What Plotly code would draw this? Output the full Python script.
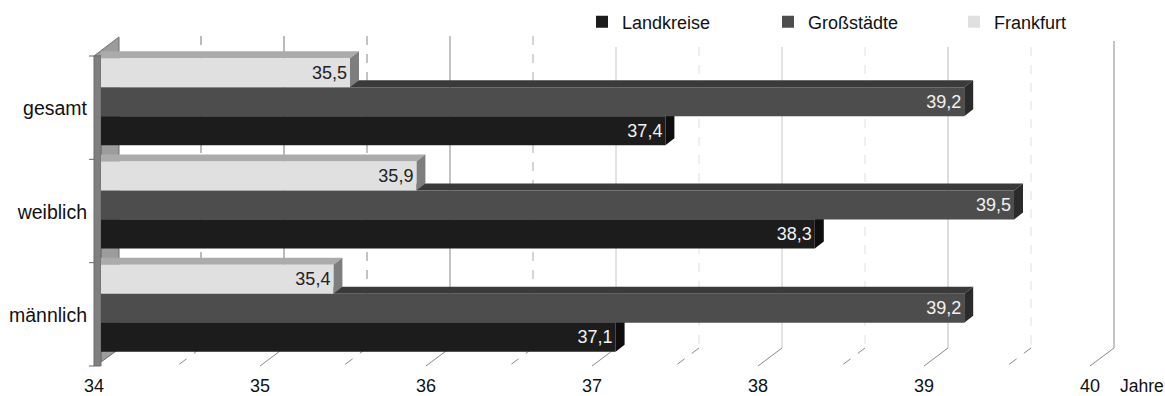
import plotly.graph_objects as go

# ---------------- data ----------------
categories = ["gesamt", "weiblich", "männlich"]
series_names = ["Landkreise", "Großstädte", "Frankfurt"]
landkreise = [37.4, 38.3, 37.1]
grossstaedte = [39.2, 39.5, 39.2]
frankfurt = [35.5, 35.9, 35.4]
x_ticks = [34, 35, 36, 37, 38, 39, 40]
x_unit = "Jahre"

# ---------------- style / geometry ----------------
W, H = 1165, 396
ML, MR, MT, MB = 101, 17, 50, 36
PXU = 166.0                      # pixels per year on the bar (front) plane
PLOT_W = W - ML - MR
PLOT_H = H - MT - MB
X0 = x_ticks[0]
XMAX = X0 + PLOT_W / PXU
NCAT = len(categories)
PYU = PLOT_H / NCAT              # pixels per category unit
BARGAP = 0.158
FONT = "Liberation Sans, Arial, sans-serif"

front_colors = ["#1c1c1c", "#4d4d4d", "#e0e0e0"]
top_colors = ["#121212", "#3a3a3a", "#ababab"]
side_colors = ["#0e0e0e", "#2b2b2b", "#7e7e7e"]
text_colors = ["#f2f2f2", "#f2f2f2", "#222222"]

series_values = [landkreise, grossstaedte, frankfurt]
ypos = [NCAT - 1 - i for i in range(NCAT)]   # gesamt on top


def px_to_paper_x(p):
    return (p - ML) / PLOT_W


def px_to_paper_y(p):
    return (H - MB - p) / PLOT_H


def val_to_px(v):
    return ML + (v - X0) * PXU


fig = go.Figure()
for name, vals, fc, tc in zip(series_names, series_values, front_colors, text_colors):
    fig.add_trace(go.Bar(
        name=name, y=ypos, x=vals, orientation="h",
        marker=dict(color=fc, line=dict(width=0)),
        texttemplate="%{x:.1f}", textposition="inside", insidetextanchor="end",
        textangle=0, textfont=dict(color=tc, size=18, family=FONT),
        constraintext="none",
    ))

shapes = []

# ---- back wall gridlines + floor slants (decoration) ----
grid_style = {
    34.5: ("#777777", "dash"), 35: ("#777777", "solid"), 35.5: ("#888888", "dash"),
    36: ("#888888", "solid"), 36.5: ("#aaaaaa", "dash"), 37: ("#c8c8c8", "solid"),
    37.5: ("#dedede", "dash"), 38: ("#c8c8c8", "solid"), 38.5: ("#e0e0e0", "dash"),
    39: ("#bbbbbb", "solid"), 39.5: ("#e0e0e0", "dash"), 40: ("#888888", "solid"),
}
for v, (col, dash) in grid_style.items():
    back = val_to_px(v) + 17
    front = val_to_px(v) - 7
    top = 47 if 36.6 < v < 39.9 else 36
    shapes.append(dict(type="line", xref="paper", yref="paper", layer="below",
                       x0=px_to_paper_x(back), x1=px_to_paper_x(back),
                       y0=px_to_paper_y(top), y1=px_to_paper_y(348),
                       line=dict(color=col, width=1, dash=dash)))
    shapes.append(dict(type="line", xref="paper", yref="paper", layer="below",
                       x0=px_to_paper_x(back), x1=px_to_paper_x(front),
                       y0=px_to_paper_y(348), y1=px_to_paper_y(366),
                       line=dict(color="#8a8a8a", width=1, dash=dash)))

# ---- left wall ----
def poly(pts):
    s = "M " + " L ".join(f"{px_to_paper_x(x):.5f},{px_to_paper_y(y):.5f}" for x, y in pts) + " Z"
    return s

wall_inner = [(94, 56), (119, 37), (119, 349), (101, 362), (101, 56)]
wall_front = [(94, 56), (101, 56), (101, 366), (94, 366)]
shapes.append(dict(type="path", xref="paper", yref="paper", layer="below",
                   path=poly(wall_inner), fillcolor="#9c9c9c",
                   line=dict(color="#6e6e6e", width=1)))
shapes.append(dict(type="path", xref="paper", yref="paper", layer="below",
                   path=poly(wall_front), fillcolor="#7f7f7f",
                   line=dict(color="#6e6e6e", width=1)))
for k in range(NCAT + 1):
    yk = 56 + k * (366 - 56) / NCAT
    shapes.append(dict(type="line", xref="paper", yref="paper", layer="below",
                       x0=px_to_paper_x(89), x1=px_to_paper_x(94),
                       y0=px_to_paper_y(yk), y1=px_to_paper_y(yk),
                       line=dict(color="#666666", width=1)))

# ---- 3D faces of the bars (derived from the data values) ----
w = (1 - BARGAP) / len(series_names)
dx = 9 / PXU
dy = 7 / PYU
for i, vals in enumerate(series_values):
    for c, v in zip(ypos, vals):
        yc = c + (i - (len(series_names) - 1) / 2) * w
        yt, yb = yc + w / 2, yc - w / 2
        top = f"M {X0},{yt} L {v},{yt} L {v + dx},{yt + dy} L {X0},{yt + dy} Z"
        side = f"M {v},{yt} L {v + dx},{yt + dy} L {v + dx},{yb + dy} L {v},{yb} Z"
        shapes.append(dict(type="path", xref="x", yref="y", layer="below",
                           path=top, fillcolor=top_colors[i], line=dict(width=0)))
        shapes.append(dict(type="path", xref="x", yref="y", layer="below",
                           path=side, fillcolor=side_colors[i], line=dict(width=0)))

fig.update_layout(
    width=W, height=H,
    margin=dict(l=ML, r=MR, t=MT, b=MB, pad=0, autoexpand=False),
    paper_bgcolor="white", plot_bgcolor="rgba(0,0,0,0)",
    barmode="group", bargap=BARGAP, bargroupgap=0,
    separators=",.",
    font=dict(family=FONT, size=18, color="#111111"),
    showlegend=True,
    legend=dict(orientation="h", xref="container", yref="container",
                x=582 / W, xanchor="left", y=1 - 22 / H, yanchor="middle",
                entrywidth=141, entrywidthmode="pixels",
                font=dict(size=18, family=FONT, color="#111111"),
                bgcolor="white", borderwidth=0, traceorder="normal"),
    shapes=shapes,
    xaxis=dict(range=[X0, XMAX], tickvals=x_ticks, ticktext=[str(t) for t in x_ticks],
               showgrid=False, zeroline=False, showline=False, ticks="",
               automargin=False,
               ticklabelshift=-7, ticklabelstandoff=13,
               tickfont=dict(size=18, family=FONT, color="#111111")),
    yaxis=dict(range=[-0.5, NCAT - 0.5], tickvals=ypos, ticktext=categories,
               showgrid=False, zeroline=False, showline=False, ticks="",
               automargin=False,
               ticklabelshift=7, ticklabelstandoff=13,
               tickfont=dict(size=19.5, family=FONT, color="#111111")),
    annotations=[dict(text=x_unit, xref="x", yref="paper", x=x_ticks[-1], y=0,
                      xanchor="left", yanchor="middle", xshift=21, yshift=-26,
                      showarrow=False, font=dict(size=17.5, family=FONT, color="#111111"))],
)

fig.write_html("out.html")
